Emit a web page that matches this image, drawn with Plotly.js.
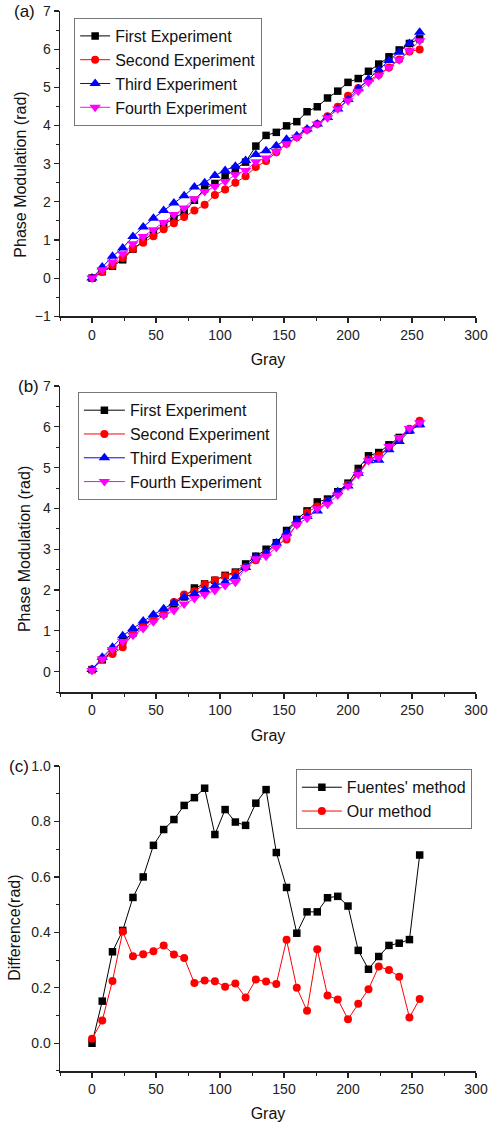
<!DOCTYPE html>
<html>
<head>
<meta charset="utf-8">
<script src="https://cdn.plot.ly/plotly-3.0.1.min.js"></script>
<style>
html,body{margin:0;padding:0;background:#fff;}
#chart{width:493px;height:1122px;}
</style>
</head>
<body>
<div id="chart"></div>
<script>
// Gray levels (x values)
const gray = [0,8,16,24,32,40,48,56,64,72,80,88,96,104,112,120,128,136,144,152,160,168,176,184,192,200,208,216,224,232,240,248,256];

// Panel (a)
const aFirst  = [0,0.17,0.31,0.48,0.76,0.98,1.20,1.40,1.56,1.73,2.04,2.34,2.48,2.67,2.86,3.04,3.46,3.74,3.82,3.99,4.10,4.36,4.49,4.72,4.90,5.13,5.23,5.42,5.61,5.80,5.98,6.15,6.27];
const aSecond = [0,0.16,0.33,0.53,0.77,0.93,1.10,1.28,1.44,1.60,1.77,1.92,2.18,2.32,2.50,2.67,2.91,3.07,3.30,3.52,3.69,3.89,4.04,4.24,4.49,4.78,4.98,5.18,5.33,5.52,5.73,5.94,5.99];
const aThird  = [0,0.29,0.57,0.79,1.09,1.34,1.57,1.77,1.97,2.16,2.39,2.50,2.69,2.82,2.93,3.08,3.24,3.34,3.47,3.64,3.73,3.91,4.04,4.21,4.43,4.68,4.96,5.22,5.46,5.70,5.92,6.15,6.44];
const aFourth = [0,0.22,0.42,0.64,0.90,1.09,1.27,1.46,1.67,1.84,2.08,2.27,2.40,2.53,2.71,2.82,3.05,3.15,3.32,3.52,3.69,3.88,4.04,4.20,4.43,4.65,4.90,5.13,5.31,5.52,5.72,5.96,6.22];

// Panel (b)
const bFirst  = [0.05,0.29,0.50,0.75,0.95,1.15,1.30,1.42,1.66,1.83,2.05,2.15,2.24,2.36,2.44,2.64,2.83,3.00,3.16,3.46,3.73,3.94,4.16,4.23,4.41,4.62,4.98,5.29,5.37,5.56,5.74,5.92,6.08];
const bSecond = [0.05,0.31,0.43,0.60,0.92,1.10,1.30,1.42,1.71,1.89,1.97,2.14,2.24,2.34,2.42,2.56,2.73,2.90,3.10,3.24,3.62,3.90,4.05,4.18,4.38,4.58,4.88,5.20,5.30,5.50,5.70,5.95,6.15];
const bThird  = [0.05,0.35,0.60,0.88,1.06,1.24,1.40,1.54,1.68,1.83,1.91,2.01,2.10,2.20,2.32,2.55,2.81,2.91,3.15,3.40,3.70,3.80,3.94,4.18,4.41,4.55,4.86,5.17,5.18,5.44,5.64,5.90,6.05];
const bFourth = [0.03,0.31,0.54,0.74,0.89,1.06,1.22,1.38,1.50,1.66,1.79,1.89,1.99,2.11,2.19,2.55,2.77,2.83,3.04,3.30,3.60,3.76,3.99,4.10,4.33,4.55,4.83,5.17,5.24,5.52,5.74,5.96,6.10];

// Panel (c)
const cFuentes = [0.00,0.152,0.33,0.407,0.526,0.60,0.714,0.771,0.807,0.858,0.886,0.92,0.753,0.843,0.798,0.786,0.866,0.915,0.688,0.562,0.397,0.474,0.474,0.525,0.53,0.495,0.335,0.267,0.313,0.353,0.361,0.374,0.679];
const cOurs    = [0.016,0.082,0.225,0.403,0.314,0.321,0.332,0.353,0.320,0.308,0.217,0.226,0.224,0.204,0.216,0.165,0.230,0.223,0.214,0.373,0.200,0.117,0.339,0.172,0.158,0.087,0.143,0.195,0.277,0.264,0.240,0.093,0.160];

const expNames = ['First Experiment','Second Experiment','Third Experiment','Fourth Experiment'];
const expColors = ['#000000','#ff0000','#0000ff','#ff00ff'];
const expSymbols = ['square','circle','triangle-up','triangle-down'];
const cNames = ["Fuentes' method", 'Our method'];
const yTitles = ['Phase Modulation (rad)', 'Phase Modulation (rad)', 'Difference(rad)'];
const panelLabels = ['(a)', '(b)', '(c)'];

const FONT = '"Liberation Sans", Arial, Helvetica, sans-serif';

function mk(x, y, xa, ya, leg, name, color, symbol) {
  const size = symbol.indexOf('triangle') === 0 ? 10 : (symbol === 'square' ? 7.5 : 8);
  return {
    x: x, y: y, type: 'scatter', mode: 'lines+markers',
    name: name, xaxis: xa, yaxis: ya, legend: leg,
    line: {color: color, width: 1},
    marker: {color: color, symbol: symbol, size: size, line: {width: 0}},
    cliponaxis: false
  };
}

const aSeries = [aFirst, aSecond, aThird, aFourth];
const bSeries = [bFirst, bSecond, bThird, bFourth];
const traces = [];
aSeries.forEach((s, i) => traces.push(mk(gray, s, 'x', 'y', 'legend', expNames[i], expColors[i], expSymbols[i])));
bSeries.forEach((s, i) => traces.push(mk(gray, s, 'x2', 'y2', 'legend2', expNames[i], expColors[i], expSymbols[i])));
traces.push(mk(gray, cFuentes, 'x3', 'y3', 'legend3', cNames[0], '#000000', 'square'));
traces.push(mk(gray, cOurs, 'x3', 'y3', 'legend3', cNames[1], '#ff0000', 'circle'));

function xax(anchor) {
  return {
    anchor: anchor, domain: [0, 1], range: [-25, 300],
    tickvals: [0, 50, 100, 150, 200, 250, 300],
    ticks: 'outside', ticklen: 5, tickwidth: 1.2, tickcolor: '#222',
    minor: {tickvals: [-25, 25, 75, 125, 175, 225, 275], ticks: 'outside', ticklen: 3, tickwidth: 1, tickcolor: '#222'},
    showline: true, linecolor: '#222', linewidth: 1.5, showgrid: false, zeroline: false,
    tickfont: {family: FONT, size: 14, color: '#222'},
    title: {text: 'Gray', font: {family: FONT, size: 16, color: '#111'}, standoff: 12},
    automargin: false
  };
}
function yax(anchor, domain, range, dtick, minorDtick, fmt) {
  return {
    anchor: anchor, domain: domain, range: range,
    dtick: dtick, tick0: 0, tickformat: fmt,
    ticks: 'outside', ticklen: 5, tickwidth: 1.2, tickcolor: '#222',
    minor: {dtick: minorDtick, tick0: 0, ticks: 'outside', ticklen: 3, tickwidth: 1, tickcolor: '#222'},
    showline: true, linecolor: '#222', linewidth: 1.5, showgrid: false, zeroline: false,
    tickfont: {family: FONT, size: 14, color: '#222'},
    automargin: false
  };
}

function leg(x, y, iw) {
  return {x: x, y: y, xanchor: 'left', yanchor: 'top', bgcolor: 'rgba(255,255,255,0)', bordercolor: '#777', borderwidth: 1, font: {family: FONT, size: 16, color: '#111'}, tracegroupgap: 0, itemwidth: iw};
}

function ytitle(i, x, y) {
  return {text: yTitles[i], xref: 'paper', yref: 'paper', x: x, y: y, xanchor: 'center', yanchor: 'middle', textangle: -90, showarrow: false, font: {family: FONT, size: 16, color: '#111'}};
}
function plabel(i, x, y) {
  return {text: panelLabels[i], xref: 'paper', yref: 'paper', x: x, y: y, xanchor: 'left', yanchor: 'middle', showarrow: false, font: {family: FONT, size: 17, color: '#111'}};
}

const layout = {
  width: 493, height: 1122,
  margin: {l: 60, r: 17, t: 11, b: 51},
  paper_bgcolor: '#fff', plot_bgcolor: '#fff',
  font: {family: FONT, color: '#111'},
  showlegend: true,
  xaxis: xax('y'),
  xaxis2: xax('y2'),
  xaxis3: xax('y3'),
  yaxis: yax('x', [0.712, 1.0], [-1, 7], 1, 0.5, 'd'),
  yaxis2: yax('x2', [0.3575, 0.6462], [-0.5, 7], 1, 0.5, 'd'),
  yaxis3: yax('x3', [0, 0.2877], [-0.1, 1.0], 0.2, 0.1, '.1f'),
  legend: leg(0.034, 0.9934, 30),
  legend2: leg(0.043, 0.6403, 41),
  legend3: leg(0.567, 0.2846, 40),
  annotations: [
    ytitle(0, -0.094, 0.8455),
    ytitle(1, -0.087, 0.4922),
    ytitle(2, -0.109, 0.1347),
    plabel(0, -0.115, 1.0),
    plabel(1, -0.105, 0.6462),
    plabel(2, -0.127, 0.2877)
  ]
};

Plotly.newPlot('chart', traces, layout, {displayModeBar: false, staticPlot: true});
</script>
</body>
</html>
